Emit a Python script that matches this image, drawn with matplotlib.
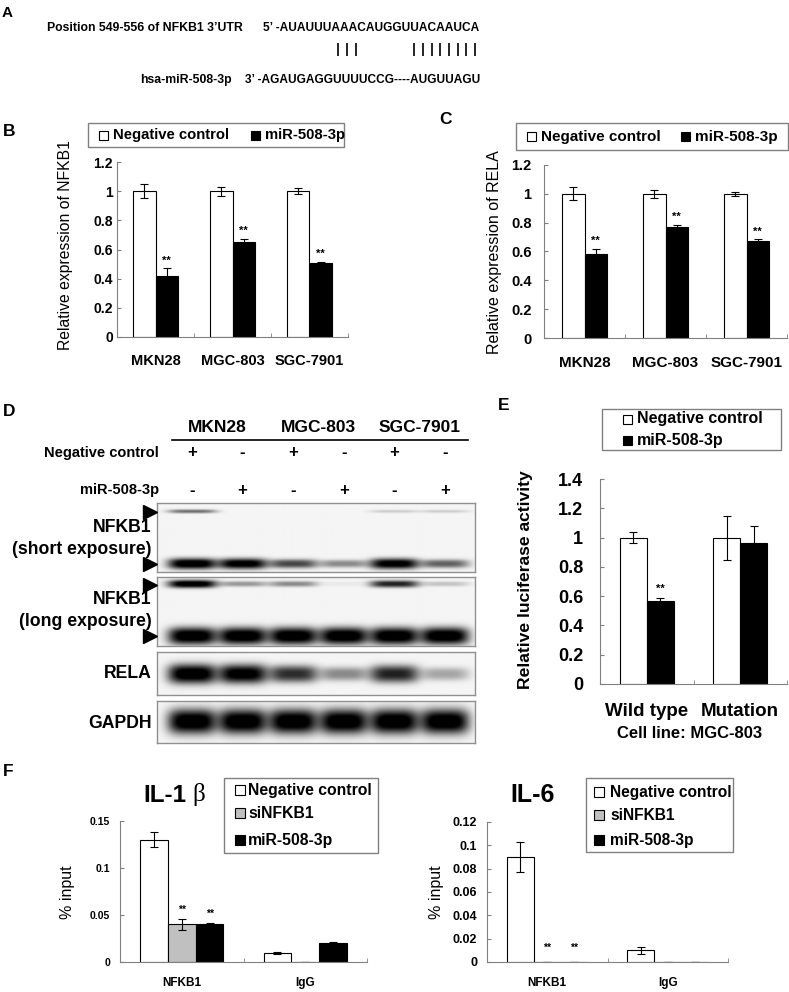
import numpy as np
import matplotlib
matplotlib.use("Agg")
import matplotlib.pyplot as plt
from matplotlib.patches import Rectangle
from matplotlib import transforms

W, H = 789, 992
plt.rcParams['font.family'] = ['Liberation Sans', 'DejaVu Sans']

# ---------------- data ----------------
cell_lines = ["MKN28", "MGC-803", "SGC-7901"]

nfkb1_nc = [1.0, 1.0, 1.0]
nfkb1_nc_err = [0.05, 0.03, 0.02]
nfkb1_mir = [0.42, 0.65, 0.505]
nfkb1_mir_err = [0.05, 0.025, 0.01]

rela_nc = [1.0, 1.0, 1.0]
rela_nc_err = [0.045, 0.03, 0.015]
rela_mir = [0.585, 0.77, 0.675]
rela_mir_err = [0.035, 0.015, 0.01]

luc_groups = ["Wild type", "Mutation"]
luc_nc = [1.0, 1.0]
luc_nc_err = [0.04, 0.15]
luc_mir = [0.57, 0.965]
luc_mir_err = [0.02, 0.115]
luc_stars = ["**", ""]

chip_groups = ["NFKB1", "IgG"]
il1b_nc = [0.13, 0.01]
il1b_nc_err = [0.008, 0.001]
il1b_si = [0.04, 0.0005]
il1b_si_err = [0.006, 0.0]
il1b_mir = [0.04, 0.02]
il1b_mir_err = [0.002, 0.0008]
il1b_stars = ["**", ""]

il6_nc = [0.09, 0.01]
il6_nc_err = [0.013, 0.003]
il6_si = [0.0, 0.0]
il6_si_err = [0.0, 0.0]
il6_mir = [0.0, 0.0]
il6_mir_err = [0.0, 0.0]
il6_stars = ["**", ""]

# western blot: band darkness per lane (0 = none, 1 = saturated)
nc_signs = ["+", "-", "+", "-", "+", "-"]
mir_signs = ["-", "+", "-", "+", "-", "+"]
short_upper = [0.45, 0.0, 0.0, 0.0, 0.12, 0.12]
short_lower = [1.0, 0.95, 0.6, 0.35, 0.95, 0.5]
long_upper = [1.0, 0.3, 0.35, 0.03, 0.75, 0.15]
long_lower = [1.0, 1.0, 1.0, 1.0, 1.0, 1.0]
rela_band = [1.0, 0.95, 0.7, 0.35, 0.75, 0.25]
gapdh_band = [1.0, 1.0, 1.0, 1.0, 1.0, 1.0]

# ---------------- figure ----------------
fig = plt.figure(figsize=(W / 100, H / 100), dpi=100)


def px_axes(x0, y0, x1, y1):
    return fig.add_axes([x0 / W, 1 - y1 / H, (x1 - x0) / W, (y1 - y0) / H])


over = fig.add_axes([0, 0, 1, 1])
over.set_xlim(0, W)
over.set_ylim(H, 0)
over.axis('off')
over.set_zorder(10)
over.patch.set_alpha(0)


def t(x, y, s, size, ha='left', weight='bold', **kw):
    over.text(x, y, s, fontsize=size, ha=ha, va='center', weight=weight, **kw)


def legend_box(x0, y0, x1, y1, entries, fs, sq=9, gap=5):
    over.add_patch(Rectangle((x0, y0), x1 - x0, y1 - y0, fc='white', ec='#808080', lw=1))
    for sx, sy, color, label in entries:
        over.add_patch(Rectangle((sx - sq / 2, sy - sq / 2), sq, sq, fc=color, ec='black', lw=0.8))
        t(sx + sq / 2 + gap, sy, label, fs)


def bar_axes(ax, ymax, step, tfs, xfs, ypad, xpad):
    for s in ['top', 'right']:
        ax.spines[s].set_visible(False)
    for s in ['left', 'bottom']:
        ax.spines[s].set_color('#808080')
        ax.spines[s].set_linewidth(0.8)
    ticks = np.round(np.arange(0, ymax + step / 2, step), 3)
    ax.set_ylim(0, ymax)
    ax.set_yticks(ticks)
    ax.set_yticklabels([f"{v:g}" for v in ticks], fontsize=tfs, weight='bold')
    ax.tick_params(axis='y', direction='in', length=3, color='#808080', pad=ypad)
    ax.tick_params(axis='x', length=0, pad=xpad, labelsize=xfs)
    ax.tick_params(axis='x', which='minor', direction='in', length=3, color='#808080')
    for lab in ax.get_xticklabels():
        lab.set_weight('bold')


def grouped(ax, groups, series, width, stars, star_fs=8, star_off=0.02):
    n = len(series)
    x = np.arange(len(groups))
    for k, (vals, errs, color) in enumerate(series):
        pos = x + (k - (n - 1) / 2) * width
        ax.bar(pos, vals, width, color=color, edgecolor='black', linewidth=0.8,
               yerr=errs, capsize=3, error_kw=dict(elinewidth=0.8, capthick=0.8, ecolor='black'))
    ax.set_xlim(-0.5, len(groups) - 0.5)
    ax.set_xticks(x)
    ax.set_xticklabels(groups)
    ax.set_xticks(np.arange(len(groups)) + 0.5, minor=True)
    # stars over the non-control series
    for k in range(1, n):
        vals, errs, _ = series[k]
        pos = x + (k - (n - 1) / 2) * width
        for i, s in enumerate(stars):
            if s:
                ax.text(pos[i], vals[i] + errs[i] + star_off, s, ha='center', va='bottom',
                        fontsize=star_fs, weight='bold')


# ---------------- panel A ----------------
t(2, 13, "A", 11)
t(47, 28, "Position 549-556 of NFKB1 3’UTR", 8.8)
t(263, 28, "5’ -AUAUUUAAACAUGGUUACAAUCA", 8.6)
t(140, 80, "hsa-miR-508-3p", 8.8)
t(245, 80, "3’ -AGAUGAGGUUUUCCG----AUGUUAGU", 8.6)
pair_x = [338, 347, 356, 414, 423, 432, 440, 449, 458, 466, 475]
over.vlines(pair_x, 43, 56, color='black', lw=1.2)

# ---------------- panel B ----------------
t(3, 131, "B", 12.5)
legend_box(88, 123, 344, 147, [(103.5, 135, 'white', "Negative control"),
                                (255.5, 135, 'black', "miR-508-3p")], 10.7)
axB = px_axes(117, 162, 348, 337)
grouped(axB, cell_lines, [(nfkb1_nc, nfkb1_nc_err, 'white'),
                          (nfkb1_mir, nfkb1_mir_err, 'black')], 0.29, ["**", "**", "**"])
bar_axes(axB, 1.2, 0.2, 10, 10.5, 3, 12)
t(66, 245, "Relative expression of NFKB1", 11.3, ha='center', weight='normal', rotation=90)

# ---------------- panel C ----------------
t(439, 119, "C", 12.5)
legend_box(516, 123, 788, 150, [(531.5, 136.5, 'white', "Negative control"),
                                 (686, 136.5, 'black', "miR-508-3p")], 11)
axC = px_axes(544, 165, 787, 338)
grouped(axC, cell_lines, [(rela_nc, rela_nc_err, 'white'),
                          (rela_mir, rela_mir_err, 'black')], 0.28, ["**", "**", "**"])
bar_axes(axC, 1.2, 0.2, 10.5, 11, 9, 13)
t(495, 252, "Relative expression of RELA", 11.5, ha='center', weight='normal', rotation=90)

# ---------------- panel D (western blot) ----------------
t(3, 411, "D", 12.5)
strips = [(503, 572), (577, 646), (652, 695), (701, 743)]
lane_lo, lane_hi = -0.69, 5.59
strip_bands = [
    [(short_upper, 0.13, 0.035), (short_lower, 0.885, 0.075)],
    [(long_upper, 0.11, 0.055), (long_lower, 0.86, 0.12)],
    [(rela_band, 0.51, 0.22)],
    [(gapdh_band, 0.5, 0.28)],
]
strip_axes = []
xs = np.linspace(lane_lo, lane_hi, 400)
for (y0, y1), bands in zip(strips, strip_bands):
    ax = px_axes(157, y0, 475, y1)
    ys = np.linspace(0, 1, 120)
    X, Y = np.meshgrid(xs, ys)
    Z = np.zeros_like(X)
    for vals, yc, sy in bands:
        for i, v in enumerate(vals):
            s_eff = sy * (0.55 + 0.45 * v)
            Z += v * np.exp(-np.abs((X - i) / 0.47) ** 4) * np.exp(-np.abs((Y - yc) / s_eff) ** 2.5)
    D = np.clip(1.15 * Z, 0, 1) ** 0.9
    img = 0.96 * (1 - D)
    ax.imshow(img, cmap='gray', vmin=0, vmax=1, extent=(lane_lo, lane_hi, 1, 0),
              aspect='auto', interpolation='bilinear')
    ax.set_xlim(lane_lo, lane_hi)
    ax.set_ylim(1, 0)
    ax.set_xticks([])
    ax.set_yticks([])
    for s in ax.spines.values():
        s.set_color('#909090')
        s.set_linewidth(1)
    strip_axes.append(ax)
    # arrowheads for the two NFKB1 strips
    if len(bands) == 2:
        tr = transforms.blended_transform_factory(over.transData, ax.transData)
        for vals, yc, sy in bands:
            over.plot([150], [yc], marker='>', markersize=10, color='black',
                      transform=tr, clip_on=False)

lane_tr = transforms.blended_transform_factory(strip_axes[0].transData, over.transData)
for g, name in enumerate(cell_lines):
    over.text(2 * g + 0.5, 427, name, transform=lane_tr, ha='center', va='center',
              fontsize=12.5, weight='bold')
over.plot([-0.4, 5.45], [440, 440], color='black', lw=1.2, transform=lane_tr)
for i in range(6):
    over.text(i, 453, nc_signs[i], transform=lane_tr, ha='center', va='center',
              fontsize=12, weight='bold')
    over.text(i, 490, mir_signs[i], transform=lane_tr, ha='center', va='center',
              fontsize=12, weight='bold')
t(159, 453, "Negative control", 10.5, ha='right')
t(159, 490, "miR-508-3p", 10.5, ha='right')
t(152, 528, "NFKB1", 12.7, ha='right')
t(152, 550, "(short exposure)", 12.7, ha='right')
t(152, 600, "NFKB1", 12.7, ha='right')
t(152, 622, "(long exposure)", 12.7, ha='right')
t(152, 674, "RELA", 12.7, ha='right')
t(152, 723, "GAPDH", 12.7, ha='right')

# ---------------- panel E ----------------
t(498, 405, "E", 12.5)
legend_box(602, 409, 781, 450, [(627.5, 419, 'white', "Negative control"),
                                 (627.5, 440, 'black', "miR-508-3p")], 11.5)
axE = px_axes(600, 479, 787, 684)
grouped(axE, luc_groups, [(luc_nc, luc_nc_err, 'white'),
                          (luc_mir, luc_mir_err, 'black')], 0.29, luc_stars, star_off=0.025)
bar_axes(axE, 1.4, 0.2, 13, 13.5, 12, 14)
t(526, 580, "Relative luciferase activity", 12.6, ha='center', rotation=90)
t(690, 733, "Cell line: MGC-803", 12, ha='center')

# ---------------- panel F ----------------
t(3, 772, "F", 12.5)
t(143, 795, "IL-1", 17.5)
over.text(192, 795, "β", fontsize=18, ha='left', va='center', family=['Liberation Serif', 'DejaVu Serif'])
legend_box(224, 778, 378, 853, [(240, 790, 'white', "Negative control"),
                                 (240, 813, '#c0c0c0', "siNFKB1"),
                                 (240, 840, 'black', "miR-508-3p")], 11.3, sq=10, gap=3)
axF1 = px_axes(120, 821, 367, 962)
grouped(axF1, chip_groups, [(il1b_nc, il1b_nc_err, 'white'),
                            (il1b_si, il1b_si_err, '#c0c0c0'),
                            (il1b_mir, il1b_mir_err, 'black')], 0.225, il1b_stars,
        star_fs=7.5, star_off=0.004)
bar_axes(axF1, 0.15, 0.05, 7.5, 8.5, 7, 11)
t(68, 892, "% input", 11.5, ha='center', weight='normal', rotation=90)

t(533, 795, "IL-6", 18, ha='center')
legend_box(586, 778, 733, 852, [(599.5, 792, 'white', "Negative control"),
                                 (599.5, 815, '#c0c0c0', "siNFKB1"),
                                 (599.5, 840, 'black', "miR-508-3p")], 11.2, sq=10, gap=6)
axF2 = px_axes(487, 822, 728, 962)
grouped(axF2, chip_groups, [(il6_nc, il6_nc_err, 'white'),
                            (il6_si, il6_si_err, '#c0c0c0'),
                            (il6_mir, il6_mir_err, 'black')], 0.225, il6_stars,
        star_fs=7.5, star_off=0.008)
bar_axes(axF2, 0.12, 0.02, 9, 8.5, 7, 11)
t(437, 892, "% input", 11.5, ha='center', weight='normal', rotation=90)

fig.savefig("out.png", dpi=100)
